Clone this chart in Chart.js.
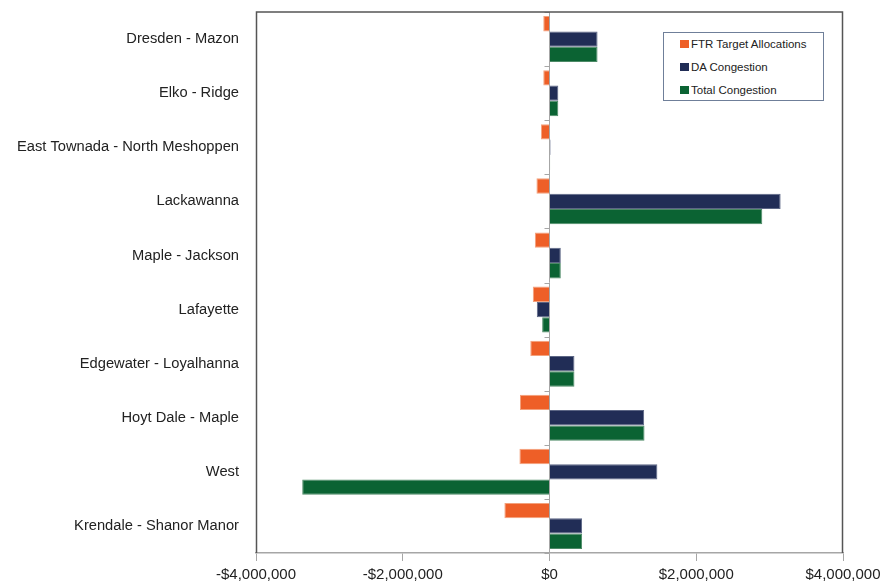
<!DOCTYPE html>
<html>
<head>
<meta charset="utf-8">
<script src="https://cdn.jsdelivr.net/npm/chart.js@4"></script>
<style>
  body { margin: 0; background: #fff; font-family: "Liberation Sans", Arial, sans-serif; }
  #wrap { position: relative; width: 880px; height: 583px; }
  #legend {
    position: absolute; left: 663px; top: 32px; width: 159px; height: 67px;
    border: 1px solid #6f7f99; background: #fff;
    font-size: 11.5px; color: #222;
  }
  .item { position: absolute; left: 16px; height: 14px; line-height: 14px; white-space: nowrap; }
  .item span { display: inline-block; width: 9px; height: 8px; margin-right: 2px; }
</style>
</head>
<body>
<div id="wrap">
  <canvas id="chart" width="880" height="583"></canvas>
  <div id="legend"></div>
</div>
<script>
// categories (top to bottom)
const constraints = [
  "Dresden - Mazon", "Elko - Ridge", "East Townada - North Meshoppen", "Lackawanna",
  "Maple - Jackson", "Lafayette", "Edgewater - Loyalhanna", "Hoyt Dale - Maple",
  "West", "Krendale - Shanor Manor"
];
// series values ($)
const ftrTarget = [-85000, -85000, -118000, -178000, -200000, -228000, -262000, -402000, -410000, -615000];
const daCongestion = [655000, 120000, 14000, 3150000, 154000, -173000, 340000, 1290000, 1470000, 444000];
const totalCongestion = [655000, 120000, 9000, 2900000, 154000, -100000, 340000, 1295000, -3370000, 444000];
// x tick labels
const xTicks = [-4000000, -2000000, 0, 2000000, 4000000];

const colors = {
  ftr: '#ee5f27', ftrEdge: '#f3a17c',
  da: '#212d56', daEdge: '#5c6685',
  total: '#0b6333', totalEdge: '#4c8a66'
};

function money(v) {
  if (v === 0) return '$0';
  const s = Math.abs(v).toLocaleString('en-US');
  return (v < 0 ? '-$' : '$') + s;
}

// frame, zero line and the little category ticks on the zero line
const framePlugin = {
  id: 'frame',
  afterDatasetsDraw(chart) {
    const { ctx, chartArea: a, scales } = chart;
    const zx = Math.round(scales.x.getPixelForValue(0)) - 0.5;
    ctx.save();
    ctx.strokeStyle = '#a6a6a6';
    ctx.lineWidth = 1;
    ctx.beginPath();
    ctx.moveTo(zx, a.top); ctx.lineTo(zx, a.bottom);
    const step = (a.bottom - a.top) / constraints.length;
    for (let i = 0; i <= constraints.length; i++) {
      const y = Math.round(a.top + i * step) + 0.5;
      ctx.moveTo(zx - 5, y); ctx.lineTo(zx, y);
    }
    ctx.stroke();
    ctx.strokeStyle = '#555';
    ctx.lineWidth = 1.5;
    ctx.beginPath();
    ctx.moveTo(a.left + 0.5, a.bottom);
    ctx.lineTo(a.left + 0.5, a.top);
    ctx.lineTo(a.right - 0.5, a.top);
    ctx.lineTo(a.right - 0.5, a.bottom);
    ctx.stroke();
    ctx.restore();
  }
};

const chart = new Chart(document.getElementById('chart'), {
  type: 'bar',
  data: {
    labels: constraints,
    datasets: [
      { label: 'FTR Target Allocations', data: ftrTarget, backgroundColor: colors.ftr, borderColor: colors.ftrEdge, borderWidth: 1 },
      { label: 'DA Congestion', data: daCongestion, backgroundColor: colors.da, borderColor: colors.daEdge, borderWidth: 1 },
      { label: 'Total Congestion', data: totalCongestion, backgroundColor: colors.total, borderColor: colors.totalEdge, borderWidth: 1 }
    ]
  },
  options: {
    indexAxis: 'y',
    responsive: false,
    animation: false,
    devicePixelRatio: 1,
    layout: { padding: { top: 12, right: 37, left: 0, bottom: 0 } },
    datasets: { bar: { categoryPercentage: 0.85, barPercentage: 1.0 } },
    scales: {
      x: {
        min: -4000000, max: 4000000,
        afterBuildTicks(s) { s.ticks = xTicks.map(v => ({ value: v })); },
        afterFit(s) { s.height = 30; s.paddingLeft = 0; s.paddingRight = 0; },
        grid: { drawOnChartArea: false, drawTicks: true, tickLength: 8, color: '#a6a6a6' },
        border: { display: true, color: '#a6a6a6', width: 1.5 },
        ticks: {
          padding: 5, color: '#222',
          font: { family: '"Liberation Sans", Arial, sans-serif', size: 15 },
          callback: v => money(v)
        }
      },
      y: {
        afterFit(s) { s.width = 256; s.paddingTop = 0; s.paddingBottom = 0; },
        grid: { display: false, drawTicks: false },
        border: { display: false },
        ticks: {
          padding: 17, color: '#222',
          font: { family: '"Liberation Sans", Arial, sans-serif', size: 14.7 }
        }
      }
    },
    plugins: {
      legend: { display: false },
      tooltip: { enabled: false }
    }
  },
  plugins: [framePlugin]
});

// legend box
const legendBox = document.getElementById('legend');
chart.data.datasets.forEach((ds, i) => {
  const item = document.createElement('div');
  item.className = 'item';
  item.style.top = (4 + i * 23) + 'px';
  item.innerHTML = `<span style="background:${ds.backgroundColor}"></span>${ds.label}`;
  legendBox.appendChild(item);
});
</script>
</body>
</html>
